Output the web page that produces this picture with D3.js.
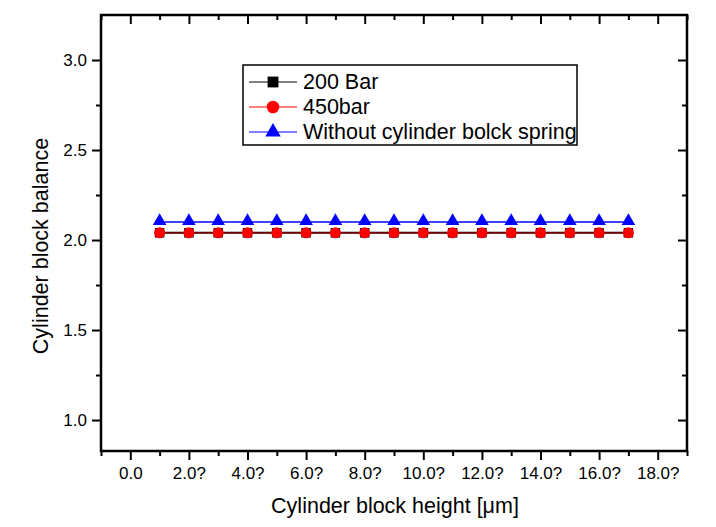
<!DOCTYPE html>
<html><head><meta charset="utf-8">
<script src="https://cdn.jsdelivr.net/npm/d3@7"></script>
<style>body{margin:0;background:#fff}svg{display:block}text{font-family:"Liberation Sans",Arial,sans-serif;fill:#000}</style>
</head><body><svg id="c" width="716" height="527"></svg>
<script>
const xValues = [1,2,3,4,5,6,7,8,9,10,11,12,13,14,15,16,17];
const bar200 = [2.04,2.04,2.04,2.04,2.04,2.04,2.04,2.04,2.04,2.04,2.04,2.04,2.04,2.04,2.04,2.04,2.04];
const bar450 = [2.04,2.04,2.04,2.04,2.04,2.04,2.04,2.04,2.04,2.04,2.04,2.04,2.04,2.04,2.04,2.04,2.04];
const noSpring = [2.10,2.10,2.10,2.10,2.10,2.10,2.10,2.10,2.10,2.10,2.10,2.10,2.10,2.10,2.10,2.10,2.10];
const xTickValues = [0,2,4,6,8,10,12,14,16,18];
const xTickLabels = ["0.0","2.0?","4.0?","6.0?","8.0?","10.0?","12.0?","14.0?","16.0?","18.0?"];
const yTickValues = [1.0,1.5,2.0,2.5,3.0];
const seriesNames = ["200 Bar","450bar","Without cylinder bolck spring"];

const svg = d3.select("#c");
const L=101,R=687,T=15,B=451;
const x = d3.scaleLinear().domain([-1,19]).range([L,R]);
const y = d3.scaleLinear().domain([0.828,3.25]).range([B,T]);

const minorX = d3.range(-1,20,2);
const minorY = d3.range(0.75,3.3,0.5).filter(v=>v>0.83&&v<3.25);
function styleAxis(g){g.select(".domain").remove();g.selectAll("line").attr("stroke","#000").attr("stroke-width",2);g.selectAll("text").attr("font-size",17).attr("font-family","Liberation Sans, Arial, sans-serif");}
svg.append("g").attr("transform",`translate(0,${B})`).call(d3.axisBottom(x).tickValues(xTickValues).tickFormat((d,i)=>xTickLabels[i]).tickSize(9).tickPadding(7)).call(styleAxis);
svg.append("g").attr("transform",`translate(0,${B})`).call(d3.axisBottom(x).tickValues(minorX).tickFormat("").tickSize(5)).call(styleAxis);
svg.append("g").attr("transform",`translate(0,${T})`).call(d3.axisBottom(x).tickValues(xTickValues).tickFormat("").tickSize(9)).call(styleAxis);
svg.append("g").attr("transform",`translate(0,${T})`).call(d3.axisBottom(x).tickValues(minorX).tickFormat("").tickSize(5)).call(styleAxis);
svg.append("g").attr("transform",`translate(${L},0)`).call(d3.axisLeft(y).tickValues(yTickValues).tickFormat(d3.format(".1f")).tickSize(9).tickPadding(5)).call(styleAxis);
svg.append("g").attr("transform",`translate(${L},0)`).call(d3.axisLeft(y).tickValues(minorY).tickFormat("").tickSize(5)).call(styleAxis);
svg.append("g").attr("transform",`translate(${R},0)`).call(d3.axisLeft(y).tickValues(yTickValues).tickFormat("").tickSize(9)).call(styleAxis);
svg.append("g").attr("transform",`translate(${R},0)`).call(d3.axisLeft(y).tickValues(minorY).tickFormat("").tickSize(5)).call(styleAxis);
svg.append("rect").attr("x",L).attr("y",T).attr("width",R-L).attr("height",B-T).attr("fill","none").attr("stroke","#000").attr("stroke-width",2.5);

const series = [
 {name:seriesNames[0],vals:bar200,color:"#000",sym:d3.symbolSquare,size:90,lw:2},
 {name:seriesNames[1],vals:bar450,color:"#ff0000",sym:d3.symbolCircle,size:95,lw:1.2},
 {name:seriesNames[2],vals:noSpring,color:"#0000ff",sym:d3.symbolTriangle,size:80,lw:1.4}
];
const line = d3.line().x((d,i)=>x(xValues[i])).y(d=>y(d));
series.forEach(s=>{
  svg.append("path").datum(s.vals).attr("d",line).attr("fill","none").attr("stroke",s.color).attr("stroke-width",s.lw).attr("stroke-opacity",s.color==="#ff0000"?0.6:1);
  svg.append("g").selectAll("path").data(s.vals).join("path")
    .attr("d",d3.symbol(s.sym,s.size)).attr("transform",(d,i)=>`translate(${x(xValues[i])},${y(d)-(s.sym===d3.symbolTriangle?1:0)})`).attr("fill",s.color);
});

const lg = svg.append("g");
lg.append("rect").attr("x",243).attr("y",65).attr("width",334).attr("height",80).attr("fill","#fff").attr("stroke","#000").attr("stroke-width",1.5);
series.forEach((s,i)=>{
  const cy = 82 + i*25;
  lg.append("line").attr("x1",249).attr("x2",297).attr("y1",cy).attr("y2",cy).attr("stroke",s.color).attr("stroke-width",1.2);
  lg.append("path").attr("d",d3.symbol(s.sym,s.size*1.3)).attr("transform",`translate(273,${cy})`).attr("fill",s.color);
  lg.append("text").attr("x",303).attr("y",cy+7).attr("font-size",21.5).text(s.name);
});

svg.append("text").attr("x",395).attr("y",513).attr("text-anchor","middle").attr("font-size",21.5).text("Cylinder block height [μm]");
svg.append("text").attr("transform","translate(48,246) rotate(-90)").attr("text-anchor","middle").attr("font-size",21.5).text("Cylinder block balance");
</script></body></html>
